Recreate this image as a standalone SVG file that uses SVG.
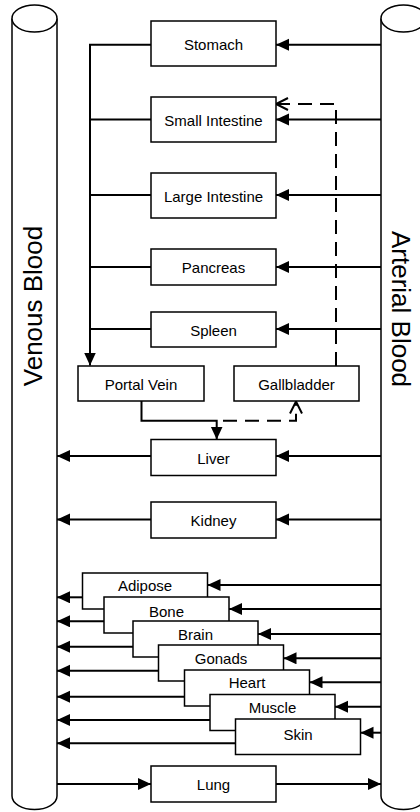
<svg xmlns="http://www.w3.org/2000/svg" width="420" height="812" viewBox="0 0 420 812">
<defs>
<style>
.cyl{fill:#fff;stroke:#000;stroke-width:1.5}
.box{fill:#fff;stroke:#000;stroke-width:1.5}
.lbl{font-family:"Liberation Sans",Arial,sans-serif;font-size:15px;fill:#000;text-anchor:middle}
.big{font-family:"Liberation Sans",Arial,sans-serif;font-size:26px;fill:#000;text-anchor:middle}
.ln{fill:none;stroke:#000;stroke-width:2}
.arr{fill:none;stroke:#000;stroke-width:2;marker-end:url(#fa)}
.dash{fill:none;stroke:#000;stroke-width:2;stroke-dasharray:14 8;marker-end:url(#oa)}
</style>
<marker id="fa" markerUnits="userSpaceOnUse" markerWidth="14" markerHeight="14" refX="13" refY="6" orient="auto"><path d="M0,0L13,6L0,12z" fill="#000"/></marker>
<marker id="oa" markerUnits="userSpaceOnUse" markerWidth="16" markerHeight="16" refX="13" refY="7" orient="auto"><path d="M1,1L13,7L1,13" fill="none" stroke="#000" stroke-width="2" stroke-dasharray="none"/></marker>
</defs>
<g id="venous-blood">
<path class="cyl" d="M12,18.5V796A22.5,13.5 0 0 0 57,796V18.5"/>
<ellipse class="cyl" cx="34.5" cy="18.5" rx="22.5" ry="13.5"/>
<text class="big" transform="translate(41.5,306) rotate(-90)">Venous Blood</text>
</g>
<g id="arterial-blood">
<path class="cyl" d="M381,18.5V796A22.5,13.5 0 0 0 426,796V18.5"/>
<ellipse class="cyl" cx="403.5" cy="18.5" rx="22.5" ry="13.5"/>
<text class="big" transform="translate(392,309) rotate(90)">Arterial Blood</text>
</g>
<g id="connectors">
<path class="arr" d="M381,44.7H276"/>
<path class="arr" d="M381,119.5H276"/>
<path class="arr" d="M381,195H276"/>
<path class="arr" d="M381,267H276"/>
<path class="arr" d="M381,329H276"/>
<path class="arr" d="M381,456H276"/>
<path class="arr" d="M151,456H57"/>
<path class="arr" d="M381,519.5H276"/>
<path class="arr" d="M151,519.5H57"/>
<path class="arr" d="M151,44.7H90V365.5"/>
<path class="ln" d="M151,119.5H90M151,195H90M151,267H90M151,329H90"/>
<path class="arr" d="M141.5,401V420.7H216.7V439.5"/>
<path class="dash" d="M336,366V104H276"/>
<path class="dash" d="M223,420.7H296V401.5"/>
<path class="arr" d="M381,585H207.5"/>
<path class="arr" d="M381,609H229"/>
<path class="arr" d="M381,634H258"/>
<path class="arr" d="M381,658.3H283.5"/>
<path class="arr" d="M381,682.3H309.5"/>
<path class="arr" d="M381,706.7H335"/>
<path class="arr" d="M381,732.7H360.5"/>
<path class="arr" d="M82.5,597.3H57"/>
<path class="arr" d="M104,621.3H57"/>
<path class="arr" d="M133,646.7H57"/>
<path class="arr" d="M158.5,670.7H57"/>
<path class="arr" d="M184.5,696.7H57"/>
<path class="arr" d="M210,720H57"/>
<path class="arr" d="M235.5,743.3H57"/>
<path class="arr" d="M57,784H151"/>
<path class="arr" d="M276,784H381"/>
</g>
<g id="stomach"><rect class="box" x="151" y="21" width="125" height="45"/><text class="lbl" x="213.5" y="50">Stomach</text></g>
<g id="small-intestine"><rect class="box" x="151" y="97" width="125" height="45"/><text class="lbl" x="213.5" y="126">Small Intestine</text></g>
<g id="large-intestine"><rect class="box" x="151" y="173" width="125" height="45"/><text class="lbl" x="213.5" y="202">Large Intestine</text></g>
<g id="pancreas"><rect class="box" x="151" y="249" width="125" height="36"/><text class="lbl" x="213.5" y="273">Pancreas</text></g>
<g id="spleen"><rect class="box" x="151" y="312" width="125" height="35"/><text class="lbl" x="213.5" y="335.5">Spleen</text></g>
<g id="portal-vein"><rect class="box" x="78" y="366" width="126" height="35"/><text class="lbl" x="141" y="389.5">Portal Vein</text></g>
<g id="gallbladder"><rect class="box" x="234" y="366" width="125" height="35"/><text class="lbl" x="296.5" y="389.5">Gallbladder</text></g>
<g id="liver"><rect class="box" x="151" y="439.5" width="125" height="36"/><text class="lbl" x="213.5" y="463.5">Liver</text></g>
<g id="kidney"><rect class="box" x="151" y="502" width="125" height="36"/><text class="lbl" x="213.5" y="526">Kidney</text></g>
<g id="adipose"><rect class="box" x="82.5" y="573" width="125" height="36"/><text class="lbl" x="145" y="591">Adipose</text></g>
<g id="bone"><rect class="box" x="104" y="597" width="125" height="36"/><text class="lbl" x="166.5" y="616.5">Bone</text></g>
<g id="brain"><rect class="box" x="133" y="621" width="125" height="36"/><text class="lbl" x="195.5" y="640">Brain</text></g>
<g id="gonads"><rect class="box" x="158.5" y="645" width="125" height="36"/><text class="lbl" x="221" y="664">Gonads</text></g>
<g id="heart"><rect class="box" x="184.5" y="670" width="125" height="36"/><text class="lbl" x="247" y="688.3">Heart</text></g>
<g id="muscle"><rect class="box" x="210" y="694.5" width="125" height="36"/><text class="lbl" x="272.5" y="712.7">Muscle</text></g>
<g id="skin"><rect class="box" x="235.5" y="719" width="125" height="35.5"/><text class="lbl" x="298" y="740">Skin</text></g>
<g id="lung"><rect class="box" x="151" y="766" width="125" height="36"/><text class="lbl" x="213.5" y="790">Lung</text></g>
</svg>
